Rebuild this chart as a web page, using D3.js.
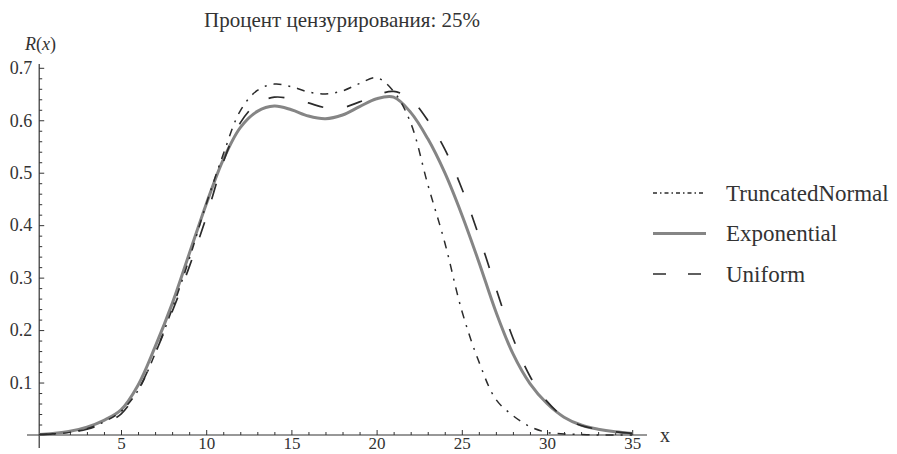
<!DOCTYPE html>
<html>
<head>
<meta charset="utf-8">
<script src="https://cdn.jsdelivr.net/npm/d3@7/dist/d3.min.js"></script>
<style>
	body { margin: 0; background: #fff; }
	svg text { font-family: "Liberation Serif", "Times New Roman", Times, "DejaVu Serif", serif; }
	.tick text { fill: #333; font-size: 18px; }
	.tick line { stroke: #333; stroke-width: 1; }
	.axis-line { stroke: #333; stroke-width: 1.2; }
</style>
</head>
<body>
<div class="chart"></div>
<script>
// data
const xs = [0.2, 1, 2, 3, 4, 5, 6, 7, 8, 9, 10, 11, 12, 13, 14, 15, 16, 17, 18, 19, 20,
	21, 22, 23, 24, 25, 26, 27, 28, 29, 30, 31, 32, 33, 34, 35];

const truncatedNormal = [0.001, 0.002, 0.005, 0.012, 0.025, 0.045, 0.085, 0.155, 0.24, 0.335, 0.44,
	0.535, 0.618, 0.657, 0.669, 0.664, 0.654, 0.650, 0.656, 0.670, 0.681,
	0.655, 0.595, 0.478, 0.367, 0.237, 0.14, 0.068, 0.037, 0.016, 0.005,
	0.002, 0.001, 0, 0, 0];

const exponential = [0.001, 0.003, 0.007, 0.015, 0.028, 0.048, 0.095, 0.168, 0.25, 0.345, 0.44,
	0.525, 0.586, 0.617, 0.627, 0.62, 0.608, 0.603, 0.61, 0.626, 0.641,
	0.644, 0.615, 0.565, 0.5, 0.42, 0.33, 0.235, 0.155, 0.098, 0.06,
	0.034, 0.019, 0.011, 0.006, 0.003];

const uniform = [0.001, 0.002, 0.005, 0.011, 0.022, 0.04, 0.085, 0.155, 0.235, 0.32, 0.415,
	0.52, 0.595, 0.632, 0.644, 0.641, 0.633, 0.624, 0.624, 0.635, 0.648,
	0.655, 0.64, 0.6, 0.545, 0.47, 0.38, 0.28, 0.185, 0.112, 0.064,
	0.034, 0.018, 0.011, 0.006, 0.003];

const seriesNames = ["TruncatedNormal", "Exponential", "Uniform"];
const title = "Процент цензурирования: 25%";
const xTicks = [5, 10, 15, 20, 25, 30, 35];
const yTicks = [0.1, 0.2, 0.3, 0.4, 0.5, 0.6, 0.7];

// styles per series
const styles = {
	TruncatedNormal: { stroke: "#2b2b2b", width: 1.5, dash: "8,7,2,7", legendDash: "4,3,1.5,3" },
	Exponential: { stroke: "#858585", width: 3, dash: null, legendDash: null },
	Uniform: { stroke: "#2b2b2b", width: 1.7, dash: "16,24", legendDash: "13,22" }
};

const series = [
	{ name: "TruncatedNormal", values: truncatedNormal },
	{ name: "Exponential", values: exponential },
	{ name: "Uniform", values: uniform }
];

const container = d3.select(".chart")
	.append("svg")
	.attr("width", 897)
	.attr("height", 454);

// scales
const scaleX = d3.scaleLinear().domain([0, 35]).range([35.8, 632.2]);
const scaleY = d3.scaleLinear().domain([0, 0.7]).range([435, 67.8]);

const originX = scaleX(xs[0]);
const originY = scaleY(0);

// title
container.append("text")
	.attr("x", 342)
	.attr("y", 27)
	.attr("text-anchor", "middle")
	.style("font-size", "21px")
	.style("fill", "#333")
	.text(title);

// axis lines
container.append("line")
	.attr("class", "axis-line")
	.attr("x1", 27).attr("x2", 647)
	.attr("y1", originY).attr("y2", originY);

container.append("line")
	.attr("class", "axis-line")
	.attr("x1", originX).attr("x2", originX)
	.attr("y1", 448).attr("y2", 64);

// x axis: minor then major ticks
const xMinor = container.append("g")
	.attr("transform", `translate(0, ${originY})`)
	.call(d3.axisBottom(scaleX)
		.tickValues(d3.range(1, 36).filter((d) => d % 5 !== 0))
		.tickSize(-3)
		.tickFormat(""));
xMinor.select(".domain").remove();

const xMajor = container.append("g")
	.attr("transform", `translate(0, ${originY})`)
	.call(d3.axisBottom(scaleX)
		.tickValues(xTicks)
		.tickSize(-5)
		.tickPadding(2)
		.tickFormat(d3.format("d")));
xMajor.select(".domain").remove();
xMajor.attr("font-family", null);
xMajor.selectAll(".tick text").style("font-size", "17px");

// y axis
const yMinor = container.append("g")
	.attr("transform", `translate(${originX}, 0)`)
	.call(d3.axisLeft(scaleY)
		.tickValues(d3.range(1, 36).map((d) => d * 0.02).filter((d, i) => (i + 1) % 5 !== 0))
		.tickSize(-3)
		.tickFormat(""));
yMinor.select(".domain").remove();

const yMajor = container.append("g")
	.attr("transform", `translate(${originX}, 0)`)
	.call(d3.axisLeft(scaleY)
		.tickValues(yTicks)
		.tickSize(-5)
		.tickPadding(7)
		.tickFormat(d3.format(".1f")));
yMajor.select(".domain").remove();
yMajor.attr("font-family", null);

// axis labels
const rLabel = container.append("text")
	.attr("x", 25)
	.attr("y", 50)
	.style("font-size", "18px")
	.style("fill", "#333");
rLabel.append("tspan").style("font-style", "italic").text("R");
rLabel.append("tspan").text("(");
rLabel.append("tspan").style("font-style", "italic").text("x");
rLabel.append("tspan").text(")");

container.append("text")
	.attr("x", 660)
	.attr("y", 442)
	.style("font-size", "20px")
	.style("fill", "#333")
	.text("x");

// curves
const line = d3.line()
	.x((d) => scaleX(d[0]))
	.y((d) => scaleY(d[1]))
	.curve(d3.curveCatmullRom.alpha(0.5));

const order = ["Exponential", "Uniform", "TruncatedNormal"];
order.forEach((name) => {
	const s = series.find((d) => d.name === name);
	const st = styles[name];
	container.append("path")
		.datum(xs.map((x, i) => [x, s.values[i]]))
		.attr("d", line)
		.attr("fill", "none")
		.attr("stroke", st.stroke)
		.attr("stroke-width", st.width)
		.attr("stroke-dasharray", st.dash);
});

// legend
const legend = container.append("g")
	.attr("class", "legend")
	.attr("transform", "translate(653, 193)");

const marks = legend.selectAll(".item")
	.data(seriesNames).enter()
	.append("g")
	.attr("class", "item")
	.attr("transform", (d, i) => `translate(0, ${i * 40.5})`);

marks.append("line")
	.attr("x1", 0).attr("x2", 53)
	.attr("y1", 0).attr("y2", 0)
	.attr("stroke", (d) => styles[d].stroke)
	.attr("stroke-width", (d) => d === "Exponential" ? 3 : 1.4)
	.attr("stroke-dasharray", (d) => styles[d].legendDash);

marks.append("text")
	.text((d) => d)
	.attr("x", 73)
	.attr("y", 0)
	.attr("dy", "0.33em")
	.style("font-size", "23px")
	.style("fill", "#333");
</script>
</body>
</html>
